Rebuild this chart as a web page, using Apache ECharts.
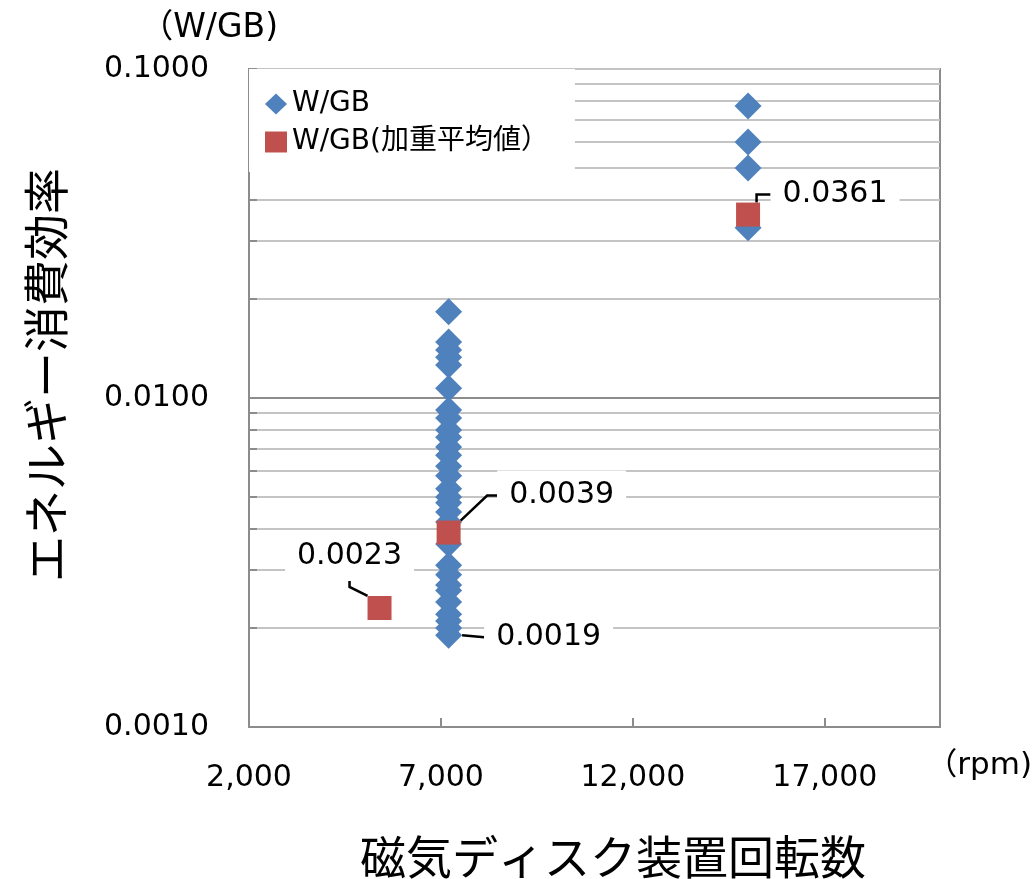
<!DOCTYPE html>
<html>
<head>
<meta charset="utf-8">
<script src="https://cdn.jsdelivr.net/npm/echarts@6/dist/echarts.min.js"></script>
<style>
html,body{margin:0;padding:0;background:#fff;}
#chart{width:1035px;height:879px;}
</style>
</head>
<body>
<div id="chart"></div>
<script>
// ---- data ----
const seriesNames = ['W/GB', 'W/GB(加重平均値）'];
const rpmGroups = [7200, 15000];
const wgbAt7200 = [0.0183, 0.0148, 0.0140, 0.0133, 0.0126, 0.0107, 0.0092, 0.0087, 0.0080, 0.0076,
  0.0071, 0.0067, 0.0062, 0.0058, 0.0053, 0.0050, 0.0048, 0.0045, 0.0042, 0.0036,
  0.0031, 0.0029, 0.0027, 0.0026, 0.0024, 0.0022, 0.0021, 0.0020, 0.0019];
const wgbAt15000 = [0.0772, 0.0600, 0.0500, 0.0329];
const avgRpm = [5400, 7200, 15000];
const avgValues = [0.0023, 0.0039, 0.0361];
const xTickLabels = [2000, 7000, 12000, 17000];
const yTickLabels = [0.001, 0.01, 0.1];
const xRange = [2000, 20000];
const yRange = [0.001, 0.1];

// ---- build ----
const FONT = "'DejaVu Sans', 'Noto Sans CJK JP', sans-serif";
const BLUE = '#4F81BD', RED = '#C0504D';

const minorTicks = [];
for (let d = 0; d < yTickLabels.length - 1; d++) {
  for (let k = 1; k <= 9; k++) minorTicks.push(+(yTickLabels[d] * k).toPrecision(3));
}
minorTicks.push(yTickLabels[yTickLabels.length - 1]);

const wgbPairs = [];
wgbAt7200.forEach(v => wgbPairs.push([rpmGroups[0], v]));
wgbAt15000.forEach(v => wgbPairs.push([rpmGroups[1], v]));
const minVal = Math.min(...wgbPairs.map(p => p[1]));
const blueData = wgbPairs.map(p => p[1] === minVal
  ? { value: p, label: { show: true }, labelLine: { show: true, length2: 0 } }
  : { value: p });

const avgLabelOffsets = [[-30, -52], [113, -37], [87, -20]];
const avgLen2 = [6, 10, 14];
const redData = avgRpm.map((x, i) => ({
  value: [x, avgValues[i]],
  labelLine: { show: true, length2: avgLen2[i] }
}));

const labelStyle = {
  position: 'inside',
  formatter: p => p.value[1].toFixed(4),
  fontFamily: FONT, fontSize: 30, color: '#000',
  backgroundColor: '#fff', padding: [10, 12, 10, 12]
};
const lineStyle = { color: '#000', width: 2.5 };

const chart = echarts.init(document.getElementById('chart'), null, { renderer: 'canvas' });
chart.setOption({
  animation: false,
  backgroundColor: '#fff',
  grid: {
    left: 249, right: 95, top: 69, bottom: 152,
    show: true, borderColor: '#8c8c8c', borderWidth: 2,
    containLabel: false, outerBoundsMode: 'none'
  },
  legend: {
    orient: 'vertical', left: 249, top: 69,
    padding: [21, 26, 16, 16],
    itemWidth: 22, itemHeight: 21, itemGap: 10,
    backgroundColor: '#fff',
    data: seriesNames,
    textStyle: { fontFamily: FONT, fontSize: 28, color: '#000' }
  },
  xAxis: {
    type: 'value', min: xRange[0], max: xRange[1],
    axisLine: { show: true, lineStyle: { color: '#8c8c8c', width: 2 } },
    axisTick: { show: true, inside: true, length: 9, customValues: xTickLabels,
      lineStyle: { color: '#8c8c8c', width: 2 } },
    axisLabel: { customValues: xTickLabels, margin: 36,
      fontFamily: FONT, fontSize: 30, color: '#000',
      formatter: v => v.toLocaleString('en-US') },
    splitLine: { show: false }
  },
  yAxis: {
    type: 'log', logBase: 10, min: yRange[0], max: yRange[1],
    axisLine: { show: true, lineStyle: { color: '#8c8c8c', width: 2 } },
    axisTick: { show: true, inside: true, length: 8, customValues: minorTicks,
      lineStyle: { color: '#8c8c8c', width: 2 } },
    axisLabel: { customValues: yTickLabels, margin: 40,
      fontFamily: FONT, fontSize: 30, color: '#000',
      formatter: v => Number(v).toFixed(4) },
    splitLine: { show: true, lineStyle: { color: '#c4c4c4', width: 2 } },
    minorTick: { show: false }, minorSplitLine: { show: false }
  },
  graphic: [
    { type: 'text', x: 278, y: 28, silent: true,
      style: { text: '（W/GB)', font: "33px 'DejaVu Sans', 'Noto Sans CJK JP'", fill: '#000',
        align: 'right', verticalAlign: 'middle', textAlign: 'right', textVerticalAlign: 'middle' } },
    { type: 'text', x: 1032, y: 766, silent: true,
      style: { text: '（rpm)', font: "31px 'DejaVu Sans', 'Noto Sans CJK JP'", fill: '#000',
        align: 'right', verticalAlign: 'middle', textAlign: 'right', textVerticalAlign: 'middle' } },
    { type: 'text', x: 613, y: 857, silent: true,
      style: { text: '磁気ディスク装置回転数', font: "46px 'Noto Sans CJK JP'", fill: '#000',
        align: 'center', verticalAlign: 'middle', textAlign: 'center', textVerticalAlign: 'middle' } },
    { type: 'text', x: 46, y: 375, rotation: Math.PI / 2, silent: true,
      style: { text: 'エネルギー消費効率', font: "46px 'Noto Sans CJK JP'", fill: '#000',
        align: 'center', verticalAlign: 'middle', textAlign: 'center', textVerticalAlign: 'middle' } }
  ],
  series: [
    {
      name: seriesNames[0], type: 'scatter', symbol: 'diamond', symbolSize: 27,
      itemStyle: { color: BLUE, opacity: 1 },
      data: blueData,
      label: Object.assign({ show: false }, labelStyle),
      labelLine: { show: false, lineStyle: lineStyle },
      labelLayout: () => ({ dx: 100, dy: 2 }),
      z: 2
    },
    {
      name: seriesNames[1], type: 'scatter', symbol: 'rect', symbolSize: 24,
      itemStyle: { color: RED, opacity: 1 },
      data: redData,
      label: Object.assign({ show: true }, labelStyle),
      labelLine: { show: true, lineStyle: lineStyle },
      labelLayout: p => ({ dx: avgLabelOffsets[p.dataIndex][0], dy: avgLabelOffsets[p.dataIndex][1] }),
      markLine: {
        silent: true, symbol: 'none', z: 1, animation: false,
        label: { show: false },
        lineStyle: { color: '#8c8c8c', width: 2, type: 'solid' },
        data: [{ yAxis: yTickLabels[1] }]
      },
      z: 3
    }
  ]
});
</script>
</body>
</html>
